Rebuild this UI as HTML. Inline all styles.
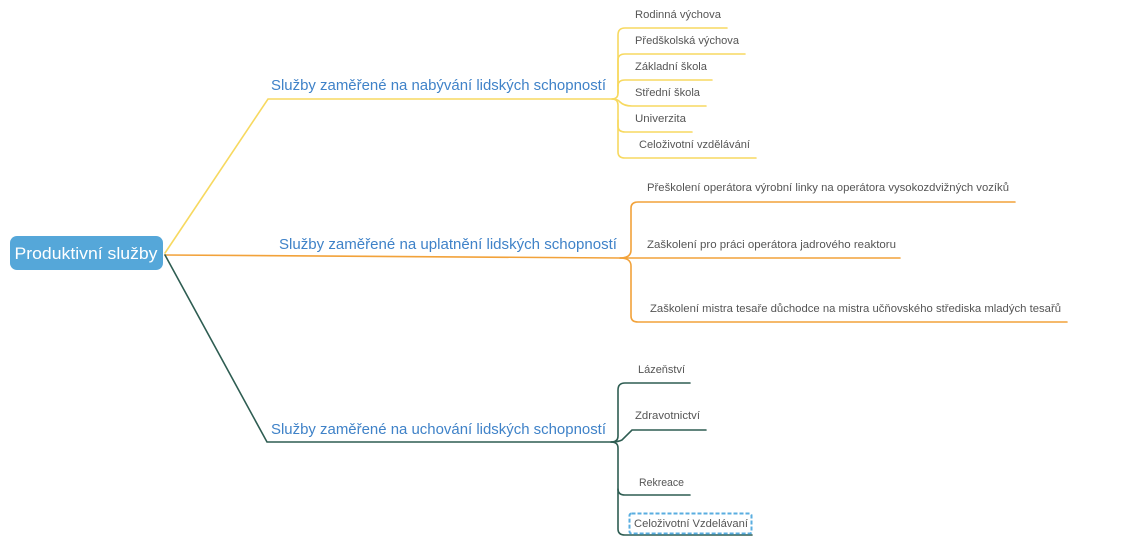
<!DOCTYPE html>
<html><head><meta charset="utf-8"><style>
body{margin:0;background:#fff}
svg{display:block}
text{font-family:"Liberation Sans",sans-serif}
.s{font-size:11px;fill:#555}
.m{font-size:15px;fill:#3f82c8}
</style></head><body>
<svg width="1129" height="542" viewBox="0 0 1129 542">
<g fill="none" stroke-linecap="round">
<!-- yellow -->
<g stroke="#f7d960" stroke-width="1.6">
<path d="M165 253 L268 99 L612 99 Q618 99 618 93 L618 35 Q618 28 625 28 L727 28"/>
<path d="M618 93 L618 60 Q618 54 625 54 L745 54"/>
<path d="M618 86 Q618 80 625 80 L712 80"/>
<path d="M612 99 Q618 99 620 102 Q624 106 632 106 L706 106"/>
<path d="M612 99 Q618 99 618 105 L618 126 Q618 132 625 132 L692 132"/>
<path d="M618 120 L618 152 Q618 158 625 158 L756 158"/>
</g>
<!-- orange -->
<g stroke="#f2a23a" stroke-width="1.6">
<path d="M165 255 L620 258 Q631 258 631 250 L631 208 Q631 202 638 202 L1015 202"/>
<path d="M620 258 L900 258"/>
<path d="M620 258 Q631 258 631 266 L631 316 Q631 322 638 322 L1067 322"/>
</g>
<!-- green -->
<g stroke="#2e5d52" stroke-width="1.6">
<path d="M165 255 L267 442 L611 442 Q618 442 618 436 L618 390 Q618 383 625 383 L690 383"/>
<path d="M611 442 Q618 442 622 440 L632 430 L706 430"/>
<path d="M611 442 Q618 442 618 448 L618 489 Q618 495 625 495 L690 495"/>
<path d="M618 489 L618 529 Q618 535 625 535 L752 535"/>
</g>
</g>
<rect x="10" y="236" width="153" height="34" rx="7" fill="#55a7d9"/>
<text x="86" y="259" text-anchor="middle" font-size="17" fill="#fff" textLength="143" lengthAdjust="spacingAndGlyphs">Produktivní služby</text>
<text class="m" x="271" y="90" textLength="335" lengthAdjust="spacingAndGlyphs">Služby zaměřené na nabývání lidských schopností</text>
<text class="m" x="279" y="249" textLength="338" lengthAdjust="spacingAndGlyphs">Služby zaměřené na uplatnění lidských schopností</text>
<text class="m" x="271" y="434" textLength="335" lengthAdjust="spacingAndGlyphs">Služby zaměřené na uchování lidských schopností</text>
<text class="s" x="635" y="18" textLength="86" lengthAdjust="spacingAndGlyphs">Rodinná výchova</text>
<text class="s" x="635" y="44" textLength="104" lengthAdjust="spacingAndGlyphs">Předškolská výchova</text>
<text class="s" x="635" y="70" textLength="72" lengthAdjust="spacingAndGlyphs">Základní škola</text>
<text class="s" x="635" y="96" textLength="65" lengthAdjust="spacingAndGlyphs">Střední škola</text>
<text class="s" x="635" y="122" textLength="51" lengthAdjust="spacingAndGlyphs">Univerzita</text>
<text class="s" x="639" y="148" textLength="111" lengthAdjust="spacingAndGlyphs">Celoživotní vzdělávání</text>
<text class="s" x="647" y="191" textLength="362" lengthAdjust="spacingAndGlyphs">Přeškolení operátora výrobní linky na operátora vysokozdvižných vozíků</text>
<text class="s" x="647" y="248" textLength="249" lengthAdjust="spacingAndGlyphs">Zaškolení pro práci operátora jadrového reaktoru</text>
<text class="s" x="650" y="312" textLength="411" lengthAdjust="spacingAndGlyphs">Zaškolení mistra tesaře důchodce na mistra učňovského střediska mladých tesařů</text>
<text class="s" x="638" y="373" textLength="47" lengthAdjust="spacingAndGlyphs">Lázeňství</text>
<text class="s" x="635" y="419" textLength="65" lengthAdjust="spacingAndGlyphs">Zdravotnictví</text>
<text class="s" x="639" y="486" textLength="45" lengthAdjust="spacingAndGlyphs">Rekreace</text>
<rect x="629.5" y="513.5" width="122" height="20" rx="2" fill="#fff" stroke="#5aaee0" stroke-width="2" stroke-dasharray="4 2"/>
<text class="s" x="634" y="527" textLength="114" lengthAdjust="spacingAndGlyphs">Celoživotní Vzdelávaní</text>
</svg>
</body></html>
